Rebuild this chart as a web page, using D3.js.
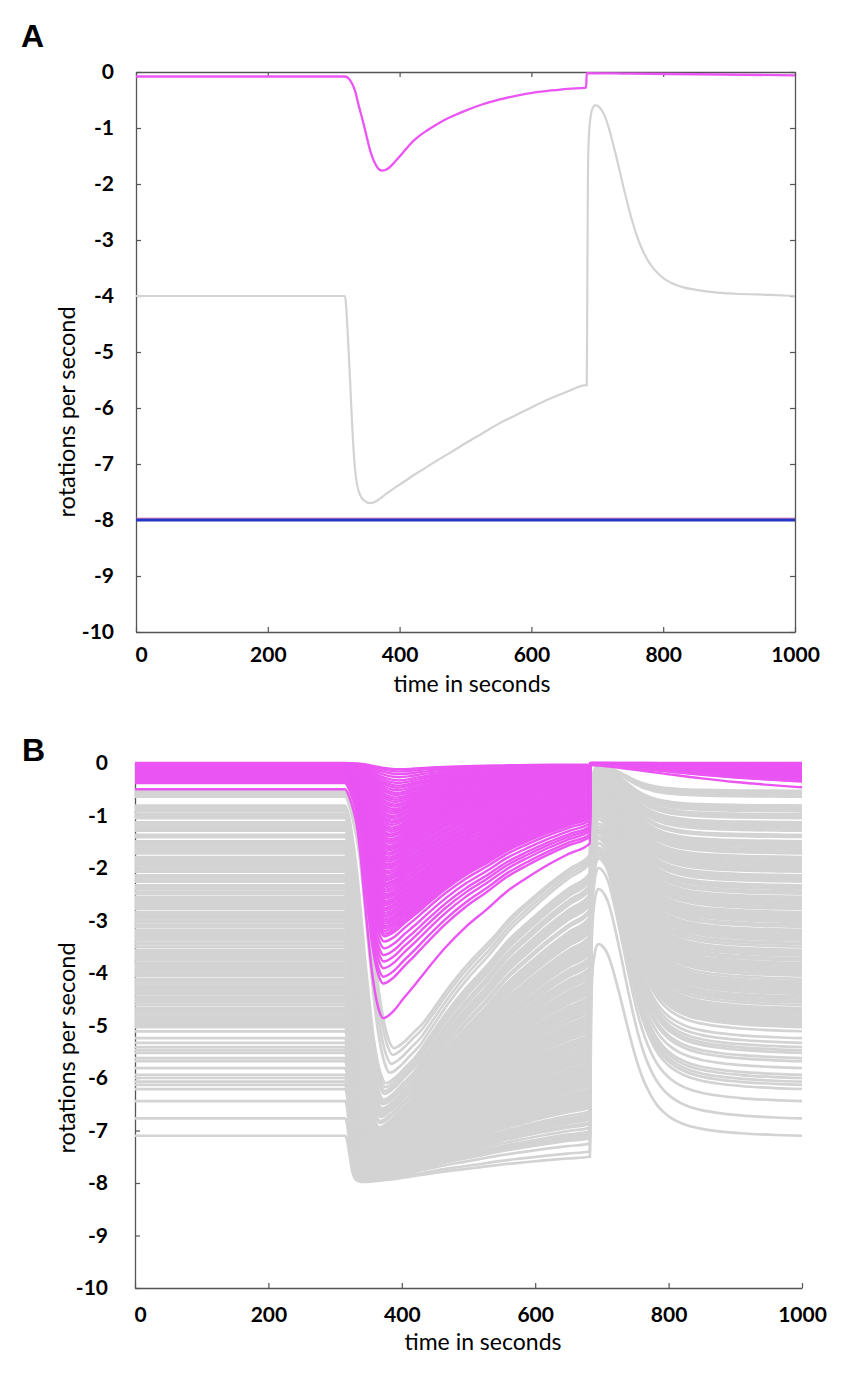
<!DOCTYPE html>
<html><head><meta charset="utf-8">
<script src="https://cdn.jsdelivr.net/npm/d3@7"></script>
<style>body{margin:0;background:#fff} svg{display:block}</style>
</head><body><svg id="c" width="846" height="1394"></svg>
<script>
// ---------- shared ticks ----------
const xTicks = [0, 200, 400, 600, 800, 1000];
const yTicks = [0, -1, -2, -3, -4, -5, -6, -7, -8, -9, -10];

// ---------- panel A series ----------
const aGrayTime = [0,317,321,325,328,332,336,340,347,355,362,370,380,392,405,420,435,451,475,500,526,552,578,600,627,654,683,684,685,686,688,691,694,697,704,711,717,723,729,735,741,747,753,759,765,771,778,786,795,805,817,832,850,875,910,962,1000];
const aGrayVal  = [-4.0,-4.0,-4.6,-5.55,-6.3,-7.05,-7.4,-7.55,-7.66,-7.7,-7.68,-7.62,-7.53,-7.43,-7.33,-7.21,-7.1,-6.98,-6.81,-6.63,-6.45,-6.27,-6.12,-5.99,-5.84,-5.71,-5.59,-5.59,-3.5,-1.6,-1.0,-0.72,-0.62,-0.59,-0.64,-0.78,-0.98,-1.24,-1.52,-1.82,-2.12,-2.4,-2.66,-2.89,-3.08,-3.24,-3.39,-3.52,-3.63,-3.72,-3.79,-3.85,-3.89,-3.93,-3.96,-3.98,-4.0];
const aMagTime = [0,317,325,332,338,345,350,355,360,364,368,373,378,384,390,397,405,413,421,430,441,453,466,480,502,525,552,578,603,630,655,683,684,750,856,1000];
const aMagVal  = [-0.08,-0.08,-0.15,-0.32,-0.6,-0.91,-1.15,-1.39,-1.56,-1.66,-1.73,-1.76,-1.75,-1.71,-1.64,-1.55,-1.44,-1.33,-1.23,-1.14,-1.05,-0.96,-0.87,-0.79,-0.68,-0.58,-0.49,-0.42,-0.37,-0.33,-0.3,-0.28,-0.02,-0.03,-0.04,-0.06];
const aBlueTime = [0, 1000];
const aBlueVal  = [-8, -8];

// ---------- panel B: per-run values ----------
// gray runs: baseline (resting) values
const grayBase = [-0.53,-0.56,-0.60,-0.64,
 -0.81,-0.85,-0.89,-0.92,-0.98,-1.02,-1.05,-1.13,-1.17,-1.21,-1.25,-1.29,-1.37,-1.41,-1.49,-1.53,-1.57,-1.61,-1.65,-1.69,-1.72,-1.79,-1.83,-1.87,-1.91,-1.95,-1.99,-2.03,-2.07,-2.14,-2.18,-2.22,-2.26,-2.33,-2.37,-2.40,-2.45,-2.49,-2.55,-2.59,-2.63,-2.67,-2.71,-2.75,-2.78,-2.84,-2.88,-2.92,-2.96,-3.00,-3.03,-3.08,-3.12,-3.18,-3.22,-3.26,-3.30,-3.34,-3.38,-3.43,-3.45,-3.50,-3.56,-3.60,-3.64,-3.67,-3.72,-3.76,-3.81,-3.85,-3.89,-3.93,-3.97,-4.01,-4.05,-4.11,-4.16,-4.20,-4.24,-4.28,-4.32,-4.36,-4.40,-4.45,-4.49,-4.53,-4.56,-4.61,-4.67,-4.71,-4.75,-4.79,-4.83,-4.87,-4.91,-4.95,-4.99,-5.03,
 -5.11,-5.24,-5.33,-5.41,-5.47,-5.52,-5.62,-5.68,-5.81,-5.94,-6.00,-6.07,-6.13,-6.21,-6.44,-6.77,-7.10];
// gray run relations (baseline -> dip minimum, value before jump, peak after jump, time of minimum)
const grayKnotBase  = [-0.53,-0.64,-0.81,-1.0,-1.5,-2.0,-3.0,-4.0,-5.0,-6.0,-6.44,-6.77,-7.1];
const grayKnotMin   = [-5.43,-5.9,-6.1,-6.45,-6.95,-7.2,-7.5,-7.7,-7.85,-7.92,-7.95,-7.97,-7.98];
const grayKnotAt680 = [-1.75,-1.9,-2.1,-2.35,-2.95,-3.55,-4.6,-5.6,-6.5,-7.05,-7.25,-7.4,-7.5];
const grayKnotPeak  = [-0.05,-0.06,-0.07,-0.08,-0.12,-0.2,-0.38,-0.6,-1.0,-1.65,-2.0,-2.4,-3.45];
const grayKnotTmin  = [388,382,376,372,366,362,357,355,350,346,344,343,342];
const grayKnotDescW = [0,0.1,0.25,0.35,0.55,0.7,0.9,1,1,1,1,1,1];

// magenta runs: dip minima
const pinkMin = [-0.12,-0.16,-0.21,-0.27,-0.33,-0.38,-0.43,-0.47,-0.52,-0.57,-0.61,-0.66,-0.70,-0.74,-0.79,-0.83,-0.88,-0.92,-0.96,-1.01,-1.05,-1.10,-1.14,-1.18,-1.23,-1.27,-1.31,-1.36,-1.40,-1.45,-1.49,-1.53,-1.58,-1.62,-1.66,-1.71,-1.75,-1.80,-1.84,-1.88,-1.93,-1.97,-2.01,-2.06,-2.10,-2.15,-2.19,-2.23,-2.28,-2.32,-2.36,-2.41,-2.45,-2.50,-2.54,-2.58,-2.63,-2.67,-2.71,-2.76,-2.80,-2.85,-2.89,-2.93,-2.98,-3.02,-3.06,-3.11,-3.15,-3.20,-3.25,-3.30,
 -3.40,-3.53,-3.66,-3.78,-3.91,-4.07,-4.20,-4.86];
const pinkKnotMin   = [-0.12,-1.0,-1.76,-2.5,-3.3,-3.66,-4.2,-4.86];
const pinkKnotBase  = [0.0,-0.08,-0.15,-0.24,-0.33,-0.35,-0.38,-0.5];
const pinkKnotAt680 = [-0.03,-0.2,-0.38,-0.7,-1.05,-1.21,-1.40,-1.53];
const pinkKnotTmin  = [398,386,380,376,374,373,372,372];
const pinkKnotPeak  = [0,-0.01,-0.01,-0.015,-0.02,-0.02,-0.03,-0.04];
const pinkKnotRiseW = [0,0.2,0.4,0.65,0.75,0.75,0.75,0.75];

// shape profiles (fraction of the way between key values)
const descPhase = [0,.1,.2,.3,.4,.5,.6,.7,.8,.9,1];
const descMag   = [0,0.03,0.08,0.15,0.28,0.46,0.63,0.79,0.9,0.97,1];
const descGray  = [0,0.08,0.3,0.55,0.78,0.89,0.95,0.975,0.99,0.997,1];
const risePhase = [0,.05,.1,.15,.2,.3,.4,.5,.6,.7,.8,.9,1];
const riseMag   = [0,0.07,0.22,0.35,0.44,0.59,0.71,0.79,0.865,0.915,0.95,0.975,1];
const riseGray  = [0,0.03,0.08,0.13,0.2,0.34,0.46,0.565,0.68,0.77,0.855,0.93,1];
const jumpTime  = [682,683,684,686,689,692,695];
const jumpFrac  = [0,0.35,0.72,0.87,0.95,0.99,1];
const decayTime = [695,702,709,715,721,727,733,739,745,751,757,763,769,776,784,793,803,815,830,848,873,908,960,1000];
const decayFrac = [0,0.015,0.055,0.115,0.19,0.27,0.355,0.44,0.52,0.595,0.66,0.715,0.76,0.805,0.845,0.878,0.905,0.928,0.948,0.963,0.976,0.987,0.996,1];
const pinkDecayTime = [683,700,750,787,850,900,950,1000];
const pinkDecayFrac = [0,0.03,0.2,0.33,0.55,0.7,0.82,0.92];

// ---------- colours ----------
const cGray = "#d3d3d3", cMag = "#ea55f3", cBlue = "#2536c6", cAxis = "#555";
const fontT = "Lato, 'Liberation Sans', sans-serif";

const svg = d3.select("#c");

function styleAxis(g){
  g.selectAll(".domain").attr("stroke", cAxis).attr("stroke-width", 1.3);
  g.selectAll(".tick line").attr("stroke", cAxis).attr("stroke-width", 1.2);
  g.selectAll(".tick text").attr("fill", "#000").attr("font-family", fontT)
    .attr("font-weight", "bold").attr("font-size", 21);
}
const fmt = d => String(d);
const nudgeZero = g => g.selectAll(".tick text").filter(d => d === 0).attr("dx", 5);

// ================= PANEL A =================
const xA = d3.scaleLinear().domain([0, 1000]).range([136, 795]);
const yA = d3.scaleLinear().domain([-10, 0]).range([632, 72]);

const axA = svg.append("g");
axA.append("g").attr("transform", `translate(${xA(0)},0)`)
  .call(d3.axisLeft(yA).tickValues(yTicks).tickSize(-5).tickSizeOuter(0).tickPadding(22).tickFormat(fmt)).call(styleAxis);
axA.append("g").attr("transform", `translate(${xA(1000)},0)`)
  .call(d3.axisRight(yA).tickValues(yTicks).tickSize(-5).tickSizeOuter(0).tickFormat("")).call(styleAxis);
axA.append("g").attr("transform", `translate(0,${yA(-10)})`)
  .call(d3.axisBottom(xA).tickValues(xTicks).tickSize(-5).tickSizeOuter(0).tickPadding(15).tickFormat(fmt)).call(styleAxis).call(nudgeZero);
axA.append("g").attr("transform", `translate(0,${yA(0)})`)
  .call(d3.axisTop(xA).tickValues(xTicks).tickSize(-5).tickSizeOuter(0).tickFormat("")).call(styleAxis);

const lineA = d3.line().x(d => xA(d[0])).y(d => yA(d[1])).curve(d3.curveMonotoneX);
const zip = (t, v) => t.map((tt, i) => [tt, v[i]]);
svg.append("path").attr("d", lineA(zip(aGrayTime, aGrayVal))).attr("fill", "none").attr("stroke", cGray).attr("stroke-width", 2.2);
svg.append("path").attr("d", lineA(zip(aBlueTime, aBlueVal))).attr("fill", "none").attr("stroke", "#e0609a").attr("stroke-width", 1).attr("transform", "translate(0,-1.8)");
svg.append("path").attr("d", lineA(zip(aBlueTime, aBlueVal))).attr("fill", "none").attr("stroke", cBlue).attr("stroke-width", 3);
svg.append("path").attr("d", lineA(zip(aMagTime, aMagVal))).attr("fill", "none").attr("stroke", cMag).attr("stroke-width", 2.3);

// titles A
svg.append("text").attr("x", 472).attr("y", 692).attr("text-anchor", "middle")
  .attr("font-family", fontT).attr("font-size", 23).text("time in seconds");
svg.append("text").attr("transform", "translate(75,412) rotate(-90)").attr("text-anchor", "middle")
  .attr("font-family", fontT).attr("font-size", 23.5).text("rotations per second");
svg.append("text").attr("x", 21).attr("y", 47).attr("font-family", "'Liberation Sans', Arial, sans-serif")
  .attr("font-weight", "bold").attr("font-size", 32).text("A");

// ================= PANEL B =================
const xB = d3.scaleLinear().domain([0, 1000]).range([135, 802]);
const yB = d3.scaleLinear().domain([-10, 0]).range([1288, 763]);

const axB = svg.append("g");
axB.append("g").attr("transform", `translate(${xB(0)},0)`)
  .call(d3.axisLeft(yB).tickValues(yTicks).tickSize(-5).tickSizeOuter(0).tickPadding(27).tickFormat(fmt)).call(styleAxis);
axB.append("g").attr("transform", `translate(0,${yB(-10)})`)
  .call(d3.axisBottom(xB).tickValues(xTicks).tickSize(-5).tickSizeOuter(0).tickPadding(19).tickFormat(fmt)).call(styleAxis).call(nudgeZero);

const sc = (dom, rng) => d3.scaleLinear().domain(dom).range(rng).clamp(true);
const gMin = sc(grayKnotBase, grayKnotMin), gAt = sc(grayKnotBase, grayKnotAt680),
      gPk = sc(grayKnotBase, grayKnotPeak), gTm = sc(grayKnotBase, grayKnotTmin), gW = sc(grayKnotBase, grayKnotDescW);
const pBase = sc(pinkKnotMin, pinkKnotBase), pAt = sc(pinkKnotMin, pinkKnotAt680),
      pTm = sc(pinkKnotMin, pinkKnotTmin), pPk = sc(pinkKnotMin, pinkKnotPeak), pW = sc(pinkKnotMin, pinkKnotRiseW);

function grayRun(b){
  const m = gMin(b), tmin = gTm(b), v680 = gAt(b), pk = gPk(b), wd = gW(b);
  const pts = [[0, b], [315, b]];
  descPhase.forEach((u, i) => { if (!i) return;
    const f = (1 - wd) * descMag[i] + wd * descGray[i];
    pts.push([315 + u * (tmin - 315), b + f * (m - b)]); });
  risePhase.forEach((v, i) => { if (!i) return;
    pts.push([tmin + v * (682 - tmin), m + riseGray[i] * (v680 - m)]); });
  jumpTime.forEach((t, i) => { if (!i) return; pts.push([t, v680 + jumpFrac[i] * (pk - v680)]); });
  decayTime.forEach((t, i) => { if (!i) return; pts.push([t, pk + decayFrac[i] * (b - pk)]); });
  return pts;
}
function pinkRun(m){
  const b = pBase(m), tmin = pTm(m), v680 = pAt(m), pk = pPk(m), wr = pW(m);
  const pts = [[0, b], [315, b]];
  descPhase.forEach((u, i) => { if (!i) return; pts.push([315 + u * (tmin - 315), b + descMag[i] * (m - b)]); });
  risePhase.forEach((v, i) => { if (!i) return;
    const f = (1 - wr) * riseMag[i] + wr * riseGray[i];
    pts.push([tmin + v * (682 - tmin), m + f * (v680 - m)]); });
  pinkDecayTime.forEach((t, i) => pts.push([t, pk + pinkDecayFrac[i] * (b - pk)]));
  return pts;
}

const lineB = d3.line().x(d => xB(d[0])).y(d => yB(d[1])).curve(d3.curveMonotoneX);
svg.append("g").selectAll("path").data(grayBase).join("path")
  .attr("d", b => lineB(grayRun(b))).attr("fill", "none").attr("stroke", cGray).attr("stroke-width", 2.7);
svg.append("g").selectAll("path").data(pinkMin).join("path")
  .attr("d", m => lineB(pinkRun(m))).attr("fill", "none").attr("stroke", cMag).attr("stroke-width", 2.4);

svg.append("text").attr("x", 483).attr("y", 1350).attr("text-anchor", "middle")
  .attr("font-family", fontT).attr("font-size", 23).text("time in seconds");
svg.append("text").attr("transform", "translate(75,1048) rotate(-90)").attr("text-anchor", "middle")
  .attr("font-family", fontT).attr("font-size", 23.5).text("rotations per second");
svg.append("text").attr("x", 22).attr("y", 761).attr("font-family", "'Liberation Sans', Arial, sans-serif")
  .attr("font-weight", "bold").attr("font-size", 32).text("B");
</script></body></html>
